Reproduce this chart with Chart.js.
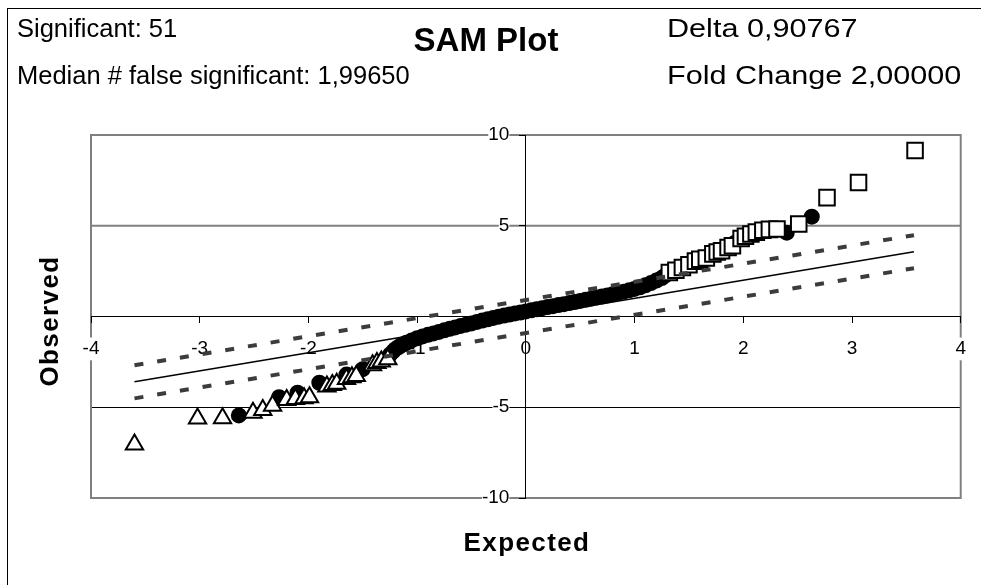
<!DOCTYPE html>
<html>
<head>
<meta charset="utf-8">
<script src="https://cdn.jsdelivr.net/npm/chart.js@4/dist/chart.umd.min.js"></script>
<style>
html,body{margin:0;padding:0;background:#fff;}
canvas{display:block;}
</style>
</head>
<body>
<canvas id="c" width="981" height="585"></canvas>
<script>
// ---- header texts ----
const headerLeft1 = "Significant: 51";
const headerLeft2 = "Median # false significant: 1,99650";
const headerTitle = "SAM Plot";
const headerRight1 = "Delta 0,90767";
const headerRight2 = "Fold Change 2,00000";
const xTitle = "Expected";
const yTitle = "Observed";

// ---- axis ranges / ticks ----
const xTicks = [-4, -3, -2, -1, 0, 1, 2, 3, 4];
const yTicks = [-10, -5, 0, 5, 10];

// ---- reference lines (expected vs observed) ----
const refX = [-3.6, 3.57];
const refY = [-3.6, 3.57];
const upperY = [-2.69, 4.48];
const lowerY = [-4.51, 2.66];

// ---- non-significant genes (filled circles) ----
const circleX = [-2.64, -2.27, -2.10, -1.90, -1.65, -1.50,
  -1.25, -1.22, -1.20, -1.17, -1.15, -1.12, -1.10, -1.05, -1.00, -0.95, -0.90, -0.85, -0.80, -0.75,
  -0.70, -0.65, -0.60, -0.55, -0.50, -0.45, -0.40, -0.35, -0.30, -0.25, -0.20, -0.15, -0.10, -0.05,
  0.00, 0.05, 0.10, 0.15, 0.20, 0.25, 0.30, 0.35, 0.40, 0.45, 0.50, 0.55, 0.60, 0.65, 0.70, 0.75,
  0.80, 0.85, 0.90, 0.95, 1.00, 1.05, 1.10, 1.15, 1.20, 1.25, 1.28,
  1.70, 1.92, 2.40, 2.63];
const circleY = [-5.45, -4.45, -4.20, -3.65, -3.20, -2.90,
  -2.10, -1.92, -1.80, -1.68, -1.60, -1.52, -1.45, -1.32, -1.20, -1.10, -1.01, -0.93, -0.85, -0.76,
  -0.68, -0.60, -0.52, -0.45, -0.38, -0.30, -0.22, -0.15, -0.08, -0.01, 0.05, 0.11, 0.17, 0.22,
  0.28, 0.34, 0.40, 0.46, 0.52, 0.57, 0.63, 0.68, 0.74, 0.80, 0.86, 0.92, 0.98, 1.04, 1.10, 1.16,
  1.23, 1.30, 1.37, 1.44, 1.52, 1.61, 1.72, 1.84, 1.98, 2.12, 2.25,
  3.35, 4.05, 4.62, 5.50];

// ---- significant negative genes (open triangles) ----
const triX = [-3.60, -3.02, -2.79, -2.51, -2.42, -2.33, -2.20, -2.12, -2.04, -1.99, -1.83, -1.78,
  -1.74, -1.65, -1.60, -1.56, -1.41, -1.37, -1.33, -1.27];
const triY = [-7.05, -5.62, -5.60, -5.30, -5.15, -4.92, -4.60, -4.55, -4.50, -4.45, -3.85, -3.78,
  -3.70, -3.45, -3.35, -3.28, -2.68, -2.56, -2.48, -2.35];

// ---- significant positive genes (open squares) ----
const sqX = [1.32, 1.38, 1.44, 1.50, 1.56, 1.60, 1.66, 1.72, 1.76, 1.80, 1.86, 1.90, 1.98, 2.02,
  2.07, 2.12, 2.18, 2.24, 2.31, 2.51, 2.77, 3.06, 3.58];
const sqY = [2.42, 2.55, 2.70, 2.85, 3.05, 3.15, 3.22, 3.45, 3.55, 3.62, 3.80, 3.90, 4.30, 4.42,
  4.55, 4.65, 4.75, 4.80, 4.82, 5.10, 6.55, 7.38, 9.15];

const pts = (xs, ys) => xs.map((x, i) => ({x: x, y: ys[i]}));
const FONT = "'Liberation Sans', Arial, sans-serif";

function stretchedText(ctx, text, x, y, sx) {
  ctx.save();
  ctx.translate(x, y);
  ctx.scale(sx, 1);
  ctx.fillText(text, 0, 0);
  ctx.restore();
}

const decor = {
  id: 'decor',
  beforeDraw(chart) {
    const ctx = chart.ctx;
    const a = chart.chartArea;
    const ys = chart.scales.y;
    ctx.save();
    ctx.fillStyle = '#fff';
    ctx.fillRect(0, 0, chart.width, chart.height);
    // outer frame
    ctx.strokeStyle = '#000';
    ctx.lineWidth = 1;
    ctx.strokeRect(7.5, 8.5, 990, 600);
    // gridlines
    ctx.beginPath();
    ctx.strokeStyle = '#808080';
    ctx.lineWidth = 2;
    const y5 = ys.getPixelForValue(5);
    ctx.moveTo(a.left, y5); ctx.lineTo(a.right, y5);
    ctx.stroke();
    ctx.beginPath();
    ctx.strokeStyle = '#000';
    ctx.lineWidth = 1;
    const ym5 = Math.round(ys.getPixelForValue(-5)) + 0.5;
    ctx.moveTo(a.left, ym5); ctx.lineTo(a.right, ym5);
    ctx.stroke();
    // plot border
    ctx.strokeStyle = '#808080';
    ctx.lineWidth = 2;
    ctx.strokeRect(a.left, a.top, a.right - a.left, a.bottom - a.top);
    // texts
    ctx.fillStyle = '#000';
    ctx.textBaseline = 'middle';
    ctx.textAlign = 'left';
    ctx.font = '25.5px ' + FONT;
    ctx.fillText(headerLeft1, 17, 30);
    ctx.fillText(headerLeft2, 17, 77);
    stretchedText(ctx, headerRight1, 667, 30, 1.2);
    stretchedText(ctx, headerRight2, 667, 77, 1.2);
    ctx.textAlign = 'center';
    ctx.font = 'bold 33px ' + FONT;
    ctx.fillText(headerTitle, 486, 42);
    ctx.font = 'bold 26px ' + FONT;
    try { ctx.letterSpacing = '1.4px'; } catch (e) {}
    ctx.fillText(xTitle, 527, 544);
    ctx.translate(51, 321);
    ctx.rotate(-Math.PI / 2);
    ctx.fillText(yTitle, 0, 0);
    ctx.restore();
  }
};

const tickFont = {family: FONT, size: 19};

// y labels of a value-positioned axis sit on the axis line; move them out past the tick marks
function shiftYLabels(scale) {
  if (scale._shiftPatched) return;
  const orig = scale._computeLabelItems;
  scale._computeLabelItems = function (ca) {
    const items = orig.call(this, ca);
    items.forEach(it => { it.options.translation[0] -= 16.5; });
    return items;
  };
  scale._shiftPatched = true;
}

new Chart(document.getElementById('c'), {
  type: 'scatter',
  data: {
    datasets: [
      {type: 'line', data: pts(refX, refY), borderColor: '#000', borderWidth: 1.5, pointRadius: 0, fill: false, order: 1},
      {type: 'line', data: pts(refX, upperY), borderColor: '#3c3c3c', borderWidth: 4, borderDash: [9, 14], pointRadius: 0, fill: false, order: 1},
      {type: 'line', data: pts(refX, lowerY), borderColor: '#3c3c3c', borderWidth: 4, borderDash: [9, 14], pointRadius: 0, fill: false, order: 1},
      {data: pts(sqX, sqY), pointStyle: 'rect', pointRadius: 11, backgroundColor: '#fff', borderColor: '#000', borderWidth: 2, order: 2},
      {data: pts(triX, triY), pointStyle: 'triangle', pointRadius: 10, backgroundColor: '#fff', borderColor: '#000', borderWidth: 2, order: 3},
      {data: pts(circleX, circleY), pointStyle: 'circle', pointRadius: 8, backgroundColor: '#000', borderColor: '#000', borderWidth: 0, order: 4}
    ]
  },
  options: {
    responsive: false,
    animation: false,
    events: [],
    layout: {padding: {left: 91, top: 135, right: 19, bottom: 87}},
    plugins: {legend: {display: false}, tooltip: {enabled: false}, title: {display: false}},
    scales: {
      x: {
        type: 'linear', min: -4, max: 4, position: {y: 0},
        afterBuildTicks: s => { s.ticks = xTicks.map(v => ({value: v})); },
        ticks: {font: tickFont, color: '#000', padding: 15, autoSkip: false, maxRotation: 0,
                showLabelBackdrop: true, backdropColor: '#fff', backdropPadding: 0},
        grid: {drawOnChartArea: false, drawTicks: true, tickLength: 6, color: '#000', lineWidth: 1},
        border: {display: true, color: '#000', width: 1}
      },
      y: {
        type: 'linear', min: -10, max: 10, position: {x: 0},
        afterBuildTicks: s => { s.ticks = yTicks.map(v => ({value: v})); },
        afterUpdate: shiftYLabels,
        ticks: {font: tickFont, color: '#000', padding: 11, autoSkip: false,
                showLabelBackdrop: true, backdropColor: '#fff', backdropPadding: 0},
        grid: {drawOnChartArea: false, drawTicks: true, tickLength: 6, color: '#000', lineWidth: 1},
        border: {display: true, color: '#000', width: 1}
      }
    }
  },
  plugins: [decor]
});
</script>
</body>
</html>
